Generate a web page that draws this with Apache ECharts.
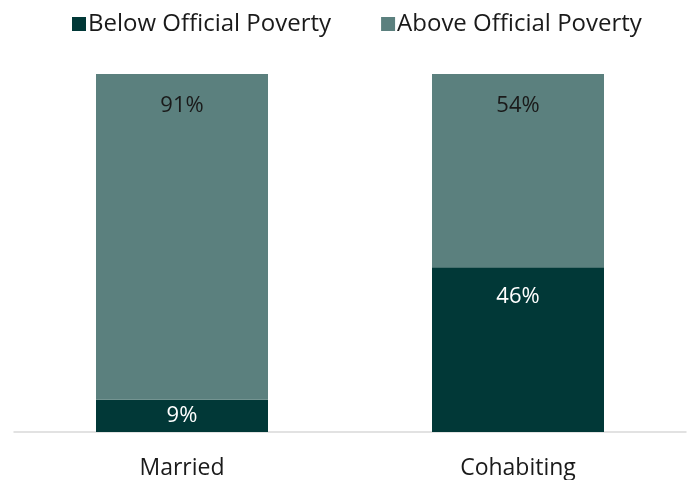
<!DOCTYPE html>
<html>
<head>
<meta charset="utf-8">
<script src="https://cdn.jsdelivr.net/npm/echarts@6/dist/echarts.min.js"></script>
<style>
html,body{margin:0;padding:0;background:#fff;}
#chart{width:688px;height:480px;}
</style>
</head>
<body>
<div id="chart"></div>
<script>
var categories = ['Married', 'Cohabiting'];
var seriesNames = ['Below Official Poverty', 'Above Official Poverty'];
var belowValues = [9, 46];
var aboveValues = [91, 54];

var FONT = '"Open Sans", "Noto Sans", sans-serif';

function buildData(values) {
  return values.map(function (v) {
    var item = { value: v };
    if (v < 15) {
      item.label = { position: 'inside', distance: 0 };
    }
    return item;
  });
}

var chart = echarts.init(document.getElementById('chart'), null, { renderer: 'canvas' });
chart.setOption({
  animation: false,
  backgroundColor: '#ffffff',
  legend: {
    top: 7,
    left: 67,
    padding: [5, 5],
    itemWidth: 14,
    itemHeight: 14,
    itemGap: 50,
    icon: 'rect',
    textStyle: { fontFamily: FONT, fontSize: 24, color: '#1a1a1a', padding: [0, 0, 0, -3] },
    data: seriesNames
  },
  grid: { left: 14, right: 2, top: 74, bottom: 48, containLabel: false },
  xAxis: {
    type: 'category',
    data: categories,
    axisLine: { show: true, lineStyle: { color: '#d9d9d9', width: 1.5 } },
    axisTick: { show: false },
    axisLabel: { fontFamily: FONT, fontSize: 23, color: '#1a1a1a', margin: 25 }
  },
  yAxis: {
    type: 'value',
    min: 0,
    max: 100,
    show: false,
    splitLine: { show: false }
  },
  series: [
    {
      name: seriesNames[0],
      type: 'bar',
      stack: 'total',
      barWidth: 172,
      itemStyle: { color: '#013837' },
      label: {
        show: true,
        position: 'insideTop',
        distance: 18,
        formatter: '{c}%',
        fontFamily: FONT,
        fontSize: 22,
        color: '#ffffff'
      },
      data: buildData(belowValues)
    },
    {
      name: seriesNames[1],
      type: 'bar',
      stack: 'total',
      barWidth: 172,
      itemStyle: { color: '#5b807e' },
      label: {
        show: true,
        position: 'insideTop',
        distance: 21,
        formatter: '{c}%',
        fontFamily: FONT,
        fontSize: 22,
        color: '#1a1a1a'
      },
      data: buildData(aboveValues)
    }
  ]
});
</script>
</body>
</html>
